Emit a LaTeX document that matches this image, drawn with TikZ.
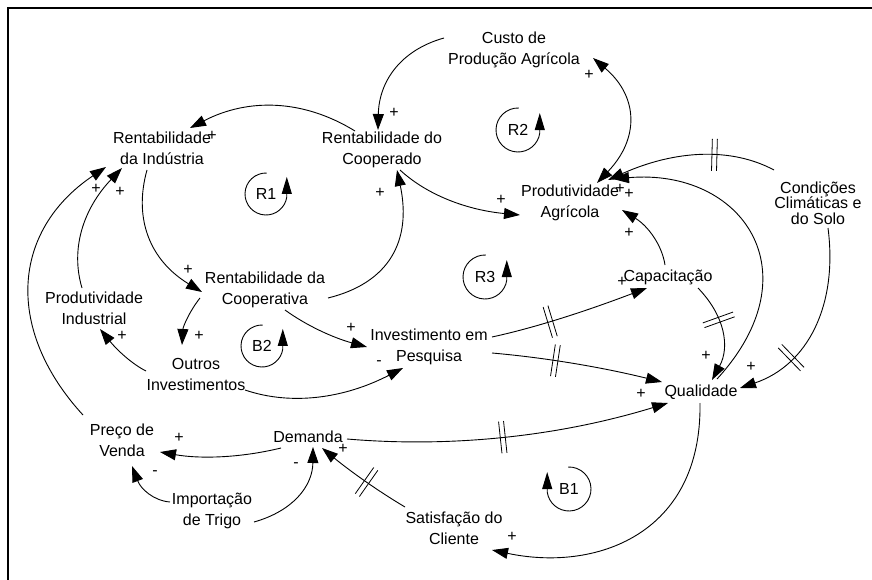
\documentclass[tikz,border=0pt]{standalone}
\usepackage{fontspec}
\setmainfont{Liberation Sans}
\usetikzlibrary{arrows.meta,decorations.markings,calc}
\begin{document}
\begin{tikzpicture}[x=1pt,y=-1pt,
  var/.style={align=center,inner sep=0pt,font=\fontsize{16}{21}\selectfont},
  sgn/.style={inner sep=0pt,font=\fontsize{16}{16}\selectfont},
  lnk/.style={line width=0.9pt,-{Triangle[length=16pt,width=11pt]}},
  dly/.style={postaction={decorate},decoration={markings,mark=at position #1 with {\draw[-,line width=0.8pt] (-2.5pt,-16pt) -- (-2.5pt,16pt) (2.5pt,-16pt) -- (2.5pt,16pt);}}},
  lp/.style={line width=0.9pt,-{Triangle[length=17pt,width=10pt]}},
]
\useasboundingbox (0,0) rectangle (872,580);
\draw[line width=2pt] (8,590) -- (8,8) -- (880,8);

% variables
\node[var] (ind) at (162,148) {Rentabilidade\\da Indústria};
\node[var] (coop) at (382,150) {Rentabilidade do\\Cooperado};
\node[var] (custo) at (514,50) {Custo de\\Produção Agrícola};
\node[var] (pagr) at (570,203) {Produtividade\\Agrícola};
\node[var,font=\fontsize{16}{15.5}\selectfont] (cond) at (818,203) {Condições\\Climáticas e\\do Solo};
\node[var] (capac) at (668,277) {Capacitação};
\node[var] (rcoop) at (265,290) {Rentabilidade da\\Cooperativa};
\node[var] (pind) at (94,308) {Produtividade\\Industrial};
\node[var] (outros) at (196,374) {Outros\\Investimentos};
\node[var] (pesq) at (429,347) {Investimento em\\Pesquisa};
\node[var] (qual) at (701,392) {Qualidade};
\node[var] (preco) at (122,440) {Preço de\\Venda};
\node[var] (dem) at (308,437) {Demanda};
\node[var] (imp) at (212,511) {Importação\\de Trigo};
\node[var] (sat) at (454,528) {Satisfação do\\Cliente};

% links
\draw[lnk] ([shift={(-27,-19)}]coop.center) .. controls (303,99) and (248,98) .. ([shift={(28,-20)}]ind.center);
\draw[lnk] ([shift={(-70,-12)}]custo.center) .. controls (401,50) and (379,81) .. ([shift={(-4,-20)}]coop.center);
\draw[line width=0.9pt,{Triangle[length=16pt,width=11pt]}-{Triangle[length=16pt,width=11pt]}] ([shift={(79,8)}]custo.center) .. controls (638,96) and (640,138) .. ([shift={(27,-20)}]pagr.center);
\draw[lnk] ([shift={(18,20)}]coop.center) .. controls (427,195) and (467,210) .. ([shift={(-50,12)}]pagr.center);
\draw[lnk] ([shift={(-15,22)}]ind.center) .. controls (133,220) and (151,261) .. ([shift={(-63,2)}]rcoop.center);
\draw[lnk] ([shift={(63,8)}]rcoop.center) .. controls (389,283) and (412,241) .. ([shift={(15,20)}]coop.center);
\draw[lnk] ([shift={(-65,8)}]rcoop.center) .. controls (189,312) and (183,327) .. ([shift={(-14,-29)}]outros.center);
\draw[lnk] ([shift={(20,20)}]rcoop.center) .. controls (307,326) and (334,338) .. ([shift={(-62,0)}]pesq.center);
\draw[lnk] ([shift={(-50,-3)}]outros.center) .. controls (132,364) and (117,350) .. ([shift={(6,21)}]pind.center);
\draw[lnk] ([shift={(49,16)}]outros.center) .. controls (292,406) and (345,398) .. ([shift={(-26,21)}]pesq.center);
\draw[lnk] ([shift={(-12,-20)}]pind.center) .. controls (70,248) and (84,208) .. ([shift={(-40,20)}]ind.center);
\draw[lnk] ([shift={(-39,-25)}]preco.center) .. controls (5,330) and (11,231) .. ([shift={(-56,19)}]ind.center);
\draw[lnk] ([shift={(-27,11)}]dem.center) .. controls (240,458) and (200,459) .. ([shift={(38,12)}]preco.center);
\draw[lnk] ([shift={(-42,-9)}]imp.center) .. controls (153.5,500.7) and (140.7,488.8) .. ([shift={(10,26)}]preco.center);
\draw[lnk] ([shift={(42,11)}]imp.center) .. controls (293,511) and (312.7,486) .. ([shift={(5,10)}]dem.center);
\draw[lnk,dly=0.45] ([shift={(-49,-21)}]sat.center) .. controls (378,491) and (350,471) .. ([shift={(14,11)}]dem.center);
\draw[lnk,dly=0.48] ([shift={(39,2)}]dem.center) .. controls (453,448) and (560,436) .. ([shift={(-33,11)}]qual.center);
\draw[lnk,dly=0.37] ([shift={(63,-10)}]pesq.center) .. controls (538,327) and (589,310) .. ([shift={(-21,11)}]capac.center);
\draw[lnk] ([shift={(-3,-12)}]capac.center) .. controls (662,245) and (648,226) .. ([shift={(52,7)}]pagr.center);
\draw[lnk,dly=0.38] ([shift={(30,11)}]capac.center) .. controls (725,316) and (730,347) .. ([shift={(11,-12)}]qual.center);
\draw[lnk] ([shift={(16,-13)}]qual.center) .. controls (815,272) and (742,168) .. ([shift={(43,-24)}]pagr.center);
\draw[lnk,dly=0.36] ([shift={(-44,-33)}]cond.center) .. controls (731,147) and (675,150) .. ([shift={(38,-23)}]pagr.center);
\draw[lnk,dly=0.7] ([shift={(10,25)}]cond.center) .. controls (838,305) and (808,365) .. ([shift={(39,-4)}]qual.center);
\draw[lnk] ([shift={(-1,11)}]qual.center) .. controls (702,535) and (595,572) .. ([shift={(38,22)}]sat.center);
\draw[lnk,dly=0.37] ([shift={(63,6)}]pesq.center) .. controls (549,358) and (605,368) .. ([shift={(-39,-10)}]qual.center);

% polarities
\node[sgn] (p1) at (212,136) {+};
\node[sgn] (p2) at (394,113) {+};
\node[sgn] (p3) at (589,75) {+};
\node[sgn] (p4) at (501,200) {+};
\node[sgn] (p5) at (188,270) {+};
\node[sgn] (p6) at (380,193) {+};
\node[sgn] (p7) at (199,336) {+};
\node[sgn] (p8) at (351,328) {+};
\node[sgn] (p9) at (122,336) {+};
\node[sgn] (p10) at (379,363) {-};
\node[sgn] (p11) at (120,192) {+};
\node[sgn] (p12) at (96,189) {+};
\node[sgn] (p13) at (179,438) {+};
\node[sgn] (p14) at (155,473) {-};
\node[sgn] (p15) at (296,465) {-};
\node[sgn] (p16) at (343,449) {+};
\node[sgn] (p17) at (641,394) {+};
\node[sgn] (p18) at (622,282) {+};
\node[sgn] (p19) at (629,233) {+};
\node[sgn] (p20) at (706,356) {+};
\node[sgn] (p21) at (620,189) {+};
\node[sgn] (p22) at (629,194) {+};
\node[sgn] (p23) at (751,367) {+};
\node[sgn] (p24) at (512,537) {+};

% loop markers
\node[sgn] (r1) at (266,194) {R1};
\draw[lp] ([shift={(-88:21)}]r1.center) arc[start angle=-88,end angle=-352,radius=21] -- ++(0,-20);
\node[sgn] (r2) at (518,130) {R2};
\draw[lp] ([shift={(-88:22)}]r2.center) arc[start angle=-88,end angle=-352,radius=22] -- ++(0,-20);
\node[sgn] (r3) at (485,277) {R3};
\draw[lp] ([shift={(-88:22)}]r3.center) arc[start angle=-88,end angle=-352,radius=22] -- ++(0,-20);
\node[sgn] (b2) at (262,346) {B2};
\draw[lp] ([shift={(-88:21)}]b2.center) arc[start angle=-88,end angle=-352,radius=21] -- ++(0,-20);
\node[sgn] (b1) at (569,489) {B1};
\draw[lp] ([shift={(-92:22)}]b1.center) arc[start angle=-92,end angle=172,radius=22] -- ++(0,-20);
\end{tikzpicture}
\end{document}
